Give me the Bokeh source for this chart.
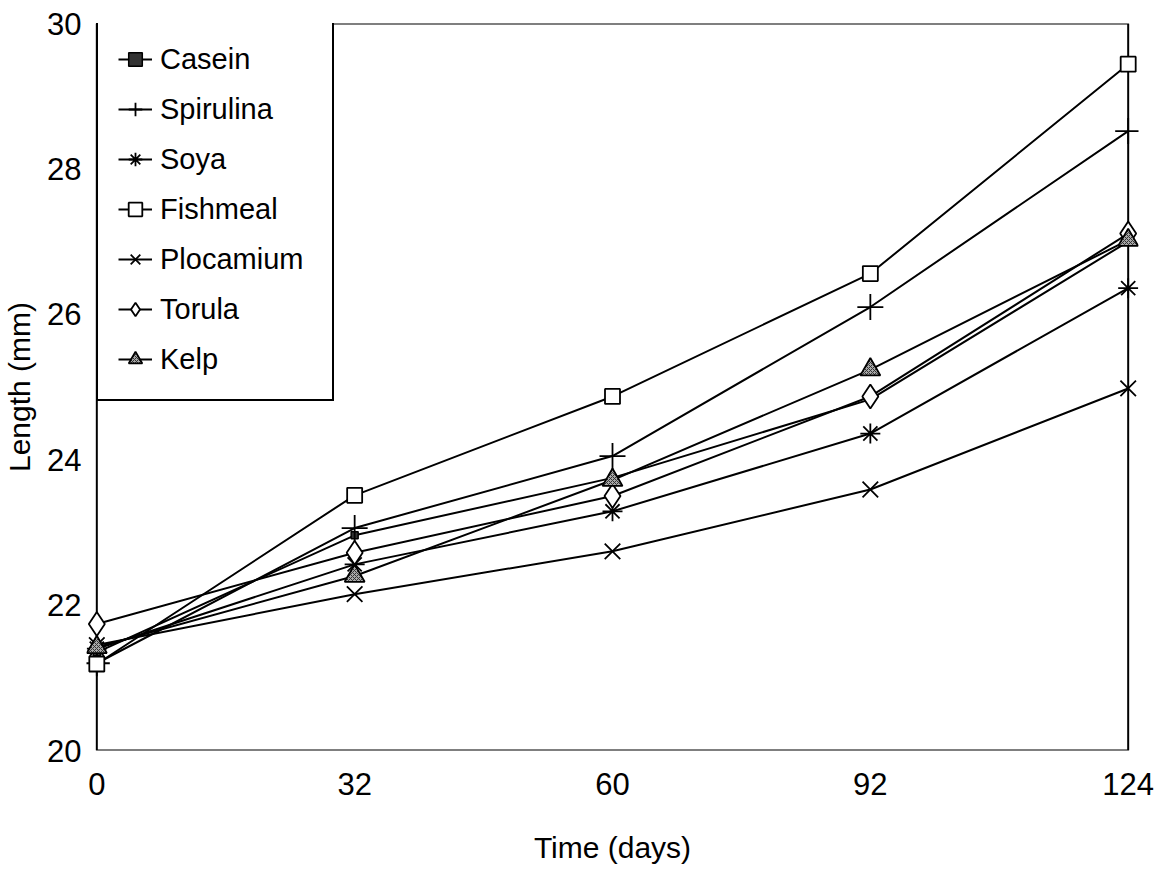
from bokeh.plotting import figure
from bokeh.models import Range1d, FixedTicker, Legend, LegendItem, BoxAnnotation
from bokeh.embed import file_html
from bokeh.resources import INLINE

days = [0, 32, 60, 92, 124]
casein = [21.35, 22.96, 23.75, 24.83, 27.00]
spirulina = [21.20, 23.06, 24.05, 26.10, 28.52]
soya = [21.40, 22.56, 23.29, 24.36, 26.36]
fishmeal = [21.19, 23.51, 24.87, 26.56, 29.44]
plocamium = [21.45, 22.15, 22.74, 23.59, 24.98]
torula = [21.74, 22.72, 23.50, 24.87, 27.11]
kelp = [21.42, 22.40, 23.72, 25.24, 27.02]

names = ["Casein", "Spirulina", "Soya", "Fishmeal", "Plocamium", "Torula", "Kelp"]
values = [casein, spirulina, soya, fishmeal, plocamium, torula, kelp]
styles = [
    dict(marker="square", size=7, fill_color="#333333", line_color="black", line_width=1.5),
    dict(marker="cross", size=26, line_color="black", line_width=1.8),
    dict(marker="asterisk", size=20, line_color="black", line_width=1.8),
    dict(marker="square", size=15, fill_color="white", line_color="black", line_width=1.8),
    dict(marker="x", size=22, line_color="black", line_width=1.8),
    dict(marker="diamond", size=24, fill_color="white", line_color="black", line_width=1.8),
    dict(marker="triangle", size=20, fill_color="#a8a8a8", line_color="black", line_width=1.8,
         hatch_pattern="x", hatch_color="#333333", hatch_scale=4, hatch_weight=1),
]

xpos = list(range(len(days)))
FONT = "Liberation Sans"

p = figure(width=1157, height=866, output_backend="svg", toolbar_location=None,
           x_range=Range1d(-0.04, len(days) - 1 + 0.04), y_range=Range1d(20, 30),
           min_border_left=85, min_border_right=19, min_border_top=23, min_border_bottom=114)
p.xgrid.visible = False
p.ygrid.visible = False
p.outline_line_color = None
p.background_fill_color = "white"

for ax in (p.xaxis[0], p.yaxis[0]):
    ax.axis_line_color = None
    ax.major_tick_line_color = None
    ax.minor_tick_line_color = None
    ax.major_tick_out = 0
    ax.major_tick_in = 0
    ax.major_label_text_font = FONT
    ax.major_label_text_font_size = "31px"
    ax.major_label_text_color = "black"
    ax.axis_label_text_font = FONT
    ax.axis_label_text_font_size = "30px"
    ax.axis_label_text_font_style = "normal"
    ax.axis_label_text_color = "black"

p.xaxis.ticker = FixedTicker(ticks=xpos)
p.xaxis.major_label_overrides = {i: str(d) for i, d in zip(xpos, days)}
p.xaxis.major_label_standoff = 22
p.xaxis.axis_label = "Time (days)"
p.xaxis.axis_label_standoff = 33

p.yaxis.ticker = FixedTicker(ticks=[20, 22, 24, 26, 28, 30])
p.yaxis.major_label_standoff = 5
p.yaxis.axis_label = "Length (mm)"
p.yaxis.axis_label_standoff = 8

p.add_layout(BoxAnnotation(left=0, right=len(days) - 1, bottom=20, top=30,
                           fill_color=None, fill_alpha=0, line_color="black",
                           line_alpha=1.0, line_width=2, level="underlay"))

items = []
for name, vals, st in zip(names, values, styles):
    lr = p.line(xpos, vals, line_color="black", line_width=2)
    st = dict(st)
    marker = st.pop("marker")
    sr = p.scatter(xpos, vals, marker=marker, **st)
    items.append(LegendItem(label=name, renderers=[lr, sr]))

legend = Legend(items=items, location=(10, 349))
legend.label_text_font = FONT
legend.label_text_font_size = "29px"
legend.label_text_color = "black"
legend.label_height = 40
legend.label_width = 152
legend.glyph_height = 40
legend.glyph_width = 34
legend.label_standoff = 8
legend.spacing = 10
legend.padding = 20
legend.margin = 0
legend.border_line_color = "black"
legend.border_line_alpha = 1.0
legend.border_line_width = 2
legend.background_fill_color = "white"
legend.background_fill_alpha = 1.0
p.add_layout(legend)

open("out.html", "w").write(file_html(p, INLINE))
